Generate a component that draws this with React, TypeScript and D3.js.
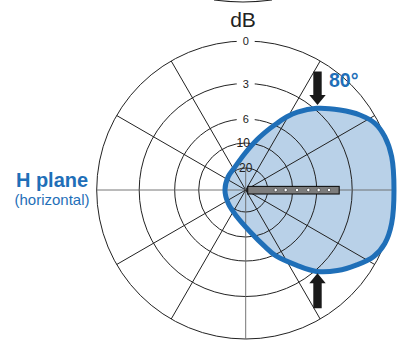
import React from "react";
import * as d3 from "d3";

// Ring levels (dB attenuation) and their tick labels
const ringLevels = [0, 3, 6, 10, 20];
const ringLabels = ["0", "3", "6", "10", "20"];
const ringRadii = [149, 106.5, 71, 47, 22];
// Spoke angles (degrees, math convention)
const spokeAngles = [0, 30, 60, 120, 150, 180, 210, 240, 270, 300, 330];
// Polar pattern: angle (deg, counter-clockwise from +x) and attenuation (dB)
const patternAngles = [0, 12.9, 21, 27.3, 33.3, 40.3, 49, 56.4, 60.6, 65, 68.5, 77.6, 91, 114.7, 142.6, 180, 217.4, 251.4, 276, 288.8, 294.5, 304.2, 311, 318.7, 326, 332.4, 339, 347.1];
const patternDb = [0.05, -0.05, 0, 0.25, 0.87, 1.79, 2.88, 4.1, 4.9, 5.8, 6.8, 9.3, 14.1, 18.6, 20, 20.5, 20, 17.6, 12.0, 7.85, 5.9, 4.3, 2.9, 1.9, 1.06, 0.35, 0, -0.05];
// Driver positions along the array (px from centre)
const driverOffsets = [30, 40, 51.3, 62.6, 73, 83.3];

const BLUE = "#1f6fb8";
const FILL = "#b9d1e8";
const INK = "#222";

export default function App() {
  const cx = 245.7;
  const cy = 190;
  const r = d3.scaleLinear().domain(ringLevels).range(ringRadii);
  const toRad = (deg: number) => ((90 - deg) * Math.PI) / 180;
  const pts: [number, number][] = patternAngles.map((a, i) => [toRad(a), r(patternDb[i])]);
  const radial = d3.lineRadial<[number, number]>()
    .angle((d) => d[0])
    .radius((d) => d[1])
    .curve(d3.curveCatmullRomClosed.alpha(0.5));
  const patternPath = radial(pts) || "";
  const outerR = r(0);

  const labelBg = [true, true, true, false, false];

  const arrow = (tipY: number, dir: number, len: number) => {
    const x = 317.5;
    const hw = 8.2, sw = 4.2, hh = 10;
    const baseY = tipY - dir * hh;
    const tailY = tipY - dir * len;
    return `M${x},${tipY} L${x - hw},${baseY} L${x - sw},${baseY} L${x - sw},${tailY} L${x + sw},${tailY} L${x + sw},${baseY} L${x + hw},${baseY} Z`;
  };

  return (
    <svg width={398} height={340} style={{ position: "absolute", left: 0, top: 0 }} fontFamily="'Liberation Sans', Arial, sans-serif">
      <rect width={398} height={340} fill="#fff" />
      {/* fragment of chart above */}
      <path d="M214,0 Q243,4 272,0" fill="none" stroke={INK} strokeWidth={1.2} />
      <text x={243} y={27.3} fontSize={21} textAnchor="middle" fill={INK}>dB</text>

      <g transform={`translate(${cx},${cy})`}>
        <path d={patternPath} fill={FILL} stroke="none" />
        {ringLevels.map((lv, i) => (
          <circle key={i} r={r(lv)} fill="none" stroke={INK} strokeWidth={1} />
        ))}
        {spokeAngles.map((a, i) => {
          const t = (a * Math.PI) / 180;
          const gray = a % 90 === 0;
          return (
            <line key={i} x1={0} y1={0} x2={outerR * Math.cos(t)} y2={-outerR * Math.sin(t)}
              stroke={gray ? "#666" : INK} strokeWidth={gray ? 0.9 : 1} />
          );
        })}
        <line x1={0} y1={0} x2={0} y2={-r(20)} stroke="#666" strokeWidth={0.9} />
        <path d={patternPath} fill="none" stroke={BLUE} strokeWidth={5} strokeLinejoin="round" />
        {ringLevels.map((lv, i) => (
          <g key={i} transform={`translate(${i === 3 ? -2.5 : 0},${-r(lv)})`}>
            {labelBg[i] && <rect x={-9} y={-6} width={18} height={12} fill="#fff" />}
            <text y={4} fontSize={i < 3 ? 11 : 12} textAnchor="middle" fill={INK}>{ringLabels[i]}</text>
          </g>
        ))}
        {/* loudspeaker array */}
        <rect x={2} y={-3.6} width={91.5} height={7.6} fill="#7d7d7d" stroke="#111" strokeWidth={1.1} />
        {driverOffsets.map((d, i) => (
          <circle key={i} cx={d} cy={0} r={1.7} fill="#fff" stroke="#333" strokeWidth={0.6} />
        ))}
      </g>

      <path d={arrow(105, 1, 33.5)} fill="#1a1a1a" />
      <path d={arrow(273.3, -1, 35)} fill="#1a1a1a" />

      <text x={329} y={87} fontSize={19.5} fontWeight="bold" fill={BLUE}>80°</text>
      <text x={52} y={187.3} fontSize={20} fontWeight="bold" fill={BLUE} textAnchor="middle">H plane</text>
      <text x={52} y={205} fontSize={15} fill={BLUE} textAnchor="middle">(horizontal)</text>
    </svg>
  );
}
